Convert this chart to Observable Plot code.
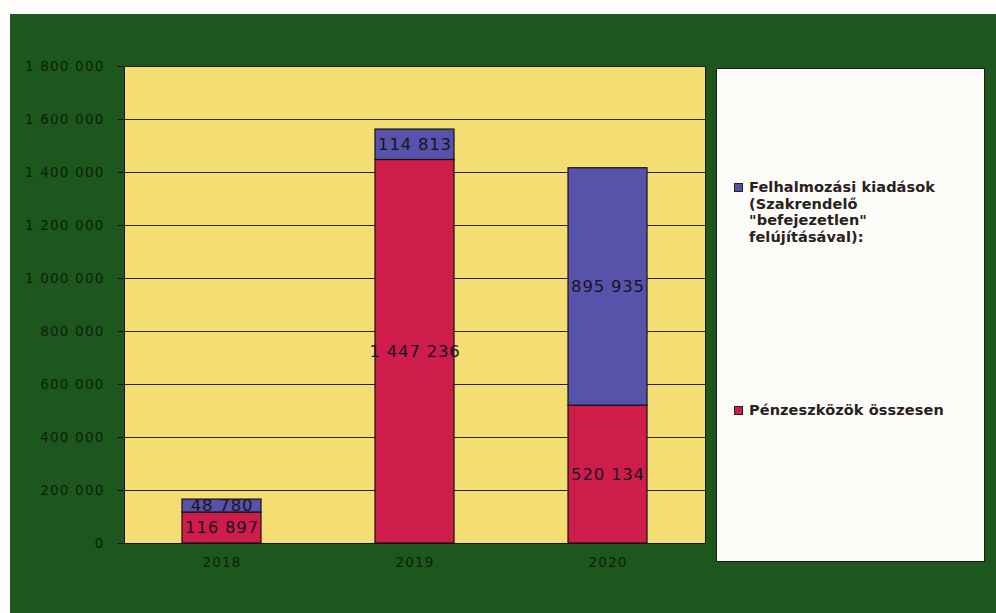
<!DOCTYPE html>
<html>
<head>
<meta charset="utf-8">
<script src="https://cdn.jsdelivr.net/npm/d3@7"></script>
<script src="https://cdn.jsdelivr.net/npm/@observablehq/plot@0.6"></script>
<style>
  html, body { margin: 0; padding: 0; background: #fdfdfb; }
  #wrap { position: relative; width: 996px; height: 613px; overflow: hidden; }
  #chart { position: absolute; left: 10px; top: 14px; }
  #legend {
    position: absolute; left: 716px; top: 68px; width: 269px; height: 494px;
    background: #fbfbf8; border: 1px solid #1a1a1a; box-sizing: border-box;
    font-family: "DejaVu Sans", sans-serif; font-weight: bold; font-size: 14.5px; color: #2a2020;
  }
  .item { position: absolute; left: 17px; line-height: 16.5px; }
  .sw { position: absolute; left: 0; top: 4px; width: 7px; height: 7px; border: 1px solid #222; }
  .lt { margin-left: 15px; letter-spacing: 0.1px; }
</style>
</head>
<body>
<div id="wrap">
  <div id="chart"></div>
  <div id="legend"></div>
</div>
<script>
const years = ["2018", "2019", "2020"];
const seriesNames = ["Pénzeszközök összesen", "Felhalmozási kiadások (Szakrendelő \"befejezetlen\" felújításával):"];
const penzeszkozok = [116897, 1447236, 520134];
const felhalmozasi = [48780, 114813, 895935];
const yTicks = [0, 200000, 400000, 600000, 800000, 1000000, 1200000, 1400000, 1600000, 1800000];
const colors = ["#cf1d4b", "#5853aa"];

const data = [];
years.forEach((yr, i) => {
  data.push({year: yr, series: seriesNames[0], value: penzeszkozok[i]});
  data.push({year: yr, series: seriesNames[1], value: felhalmozasi[i]});
});

const fmt = v => d3.format(",")(v).replace(/,/g, " ");
const dark = "#0b1f0b";

const chart = Plot.plot({
  width: 986,
  height: 599,
  marginLeft: 114,
  marginTop: 52,
  marginRight: 291,
  marginBottom: 70,
  style: {background: "#1d571d", fontFamily: "DejaVu Sans, sans-serif"},
  x: {domain: years, paddingInner: 0.59, paddingOuter: 0.295, axis: null, label: null},
  y: {domain: [0, 1800000], axis: null, label: null},
  color: {domain: seriesNames, range: colors},
  marks: [
    Plot.frame({fill: "#f4de74", stroke: "#1a1a1a"}),
    Plot.gridY(yTicks, {stroke: "#2a2412", strokeOpacity: 1, strokeWidth: 1}),
    Plot.barY(data, Plot.stackY({x: "year", y: "value", fill: "series", z: "series", stroke: "#111", strokeWidth: 1.2, order: seriesNames})),
    Plot.text(data, Plot.stackY({x: "year", y: "value", z: "series", order: seriesNames, text: d => fmt(d.value), fill: "#1a1226", fontSize: 16.5})),
    Plot.axisY(yTicks, {tickSize: 6, tickPadding: 14, tickFormat: fmt, fontSize: 13.5, fill: dark, stroke: "#111", label: null}),
    Plot.axisX({tickSize: 0, tickPadding: 14, fontSize: 13.5, fill: dark, label: null}),
    Plot.ruleY([0], {stroke: "#111", strokeWidth: 1.2})
  ]
});
d3.select(chart).selectAll("g[aria-label='y-axis tick label'] text, g[aria-label='x-axis tick label'] text").style("letter-spacing", "1.2px");
d3.select(chart).selectAll("g[aria-label='text'] text").style("letter-spacing", "0.8px");
document.getElementById("chart").appendChild(chart);

const legend = document.getElementById("legend");
const items = [
  {name: seriesNames[1], color: colors[1], top: 110, lines: ["Felhalmozási kiadások", "(Szakrendelő", "\"befejezetlen\"", "felújításával):"]},
  {name: seriesNames[0], color: colors[0], top: 333, lines: ["Pénzeszközök összesen"]}
];
items.forEach(it => {
  const div = document.createElement("div");
  div.className = "item";
  div.style.top = it.top + "px";
  const sw = document.createElement("div");
  sw.className = "sw";
  sw.style.background = it.color;
  div.appendChild(sw);
  const t = document.createElement("div");
  t.className = "lt";
  t.innerHTML = it.lines.map(s => s.replace(/&/g, "&amp;").replace(/</g, "&lt;")).join("<br>");
  div.appendChild(t);
  legend.appendChild(div);
});
</script>
</body>
</html>
